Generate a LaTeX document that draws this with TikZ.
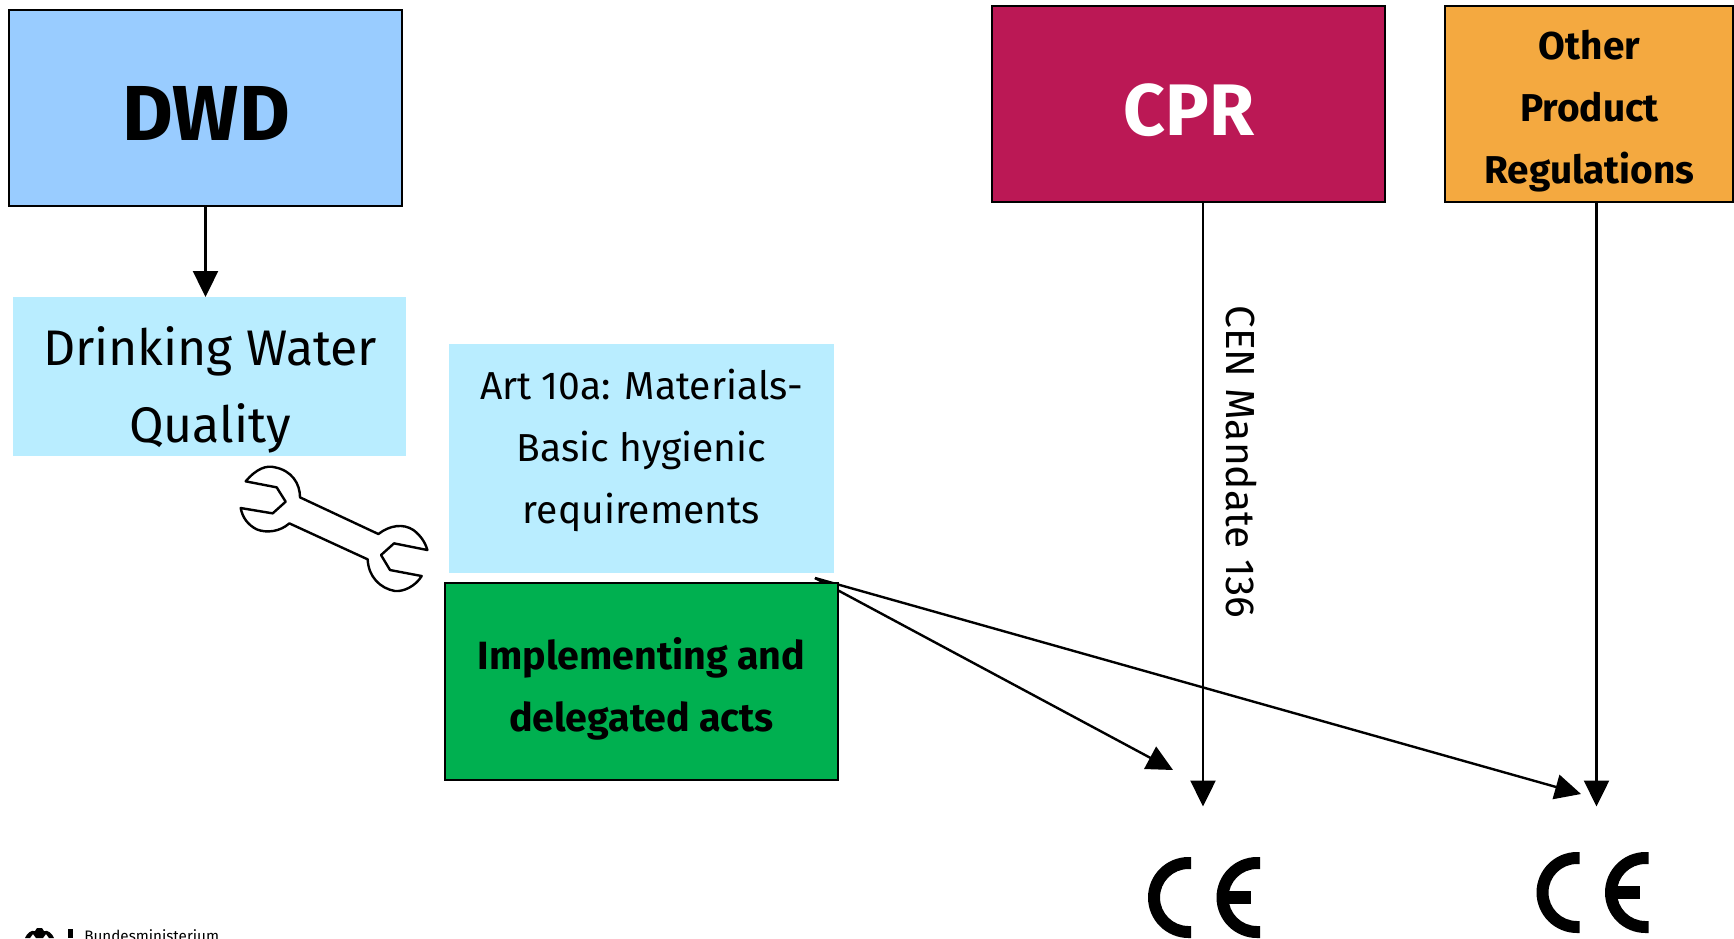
\documentclass[tikz,border=0pt]{standalone}
\usepackage{fontspec}
\setmainfont{Fira Sans}
\usetikzlibrary{arrows.meta}
\definecolor{dwdblue}{HTML}{99CCFF}
\definecolor{cprred}{HTML}{BB1855}
\definecolor{otherorange}{HTML}{F4A940}
\definecolor{lightcyan}{HTML}{B9EDFF}
\definecolor{actgreen}{HTML}{00B050}
\tikzset{
  px/.style={x=0.5pt,y=-0.5pt},
  boxbase/.style={rectangle,inner sep=0pt,outer sep=0pt,anchor=north west},
  framed/.style={boxbase,draw=black,line width=1pt},
  flat/.style={boxbase},
  boxtext/.style={inner sep=0pt,outer sep=0pt,align=center},
  arrowline/.style={draw=black,line width=1.2pt,-{Triangle[length=13pt,width=12.5pt]}},
  cemark/.style={fill=black,draw=none},
  wrenchline/.style={draw=black,line width=1.2pt,fill=white,line join=round}
}
\newcommand{\cemarkat}[2]{%
  \fill[cemark,shift={(#1,#2)}] (43,-40.5) -- (40.5,-40.5) arc[start angle=90,end angle=270,radius=20.25pt] -- (43,40.5) -- (43,28.5) -- (40.5,28.5) arc[start angle=270,end angle=90,radius=14.25pt] -- (43,-28.5) -- cycle;
  \fill[cemark,shift={(#1,#2)}] (112,-40.5) -- (109,-40.5) arc[start angle=90,end angle=270,radius=20.25pt] -- (112,40.5) -- (112,28.5) -- (109,28.5) arc[start angle=270,end angle=90,radius=14.25pt] -- (112,-28.5) -- cycle;
  \fill[cemark,shift={(#1,#2)}] (78,-6.2) rectangle (103,6.2);
}
\begin{document}
\begin{tikzpicture}[px]
\useasboundingbox (0,0) rectangle (1734,938);
\clip (0,0) rectangle (1734,938);
% boxes
\node[framed,fill=dwdblue,minimum width=196.5pt,minimum height=98pt] (dwd) at (9,10) {};
\node[framed,fill=cprred,minimum width=196.5pt,minimum height=98pt] (cpr) at (992,6) {};
\node[framed,fill=otherorange,minimum width=144pt,minimum height=98pt] (other) at (1445,6) {};
\node[flat,fill=lightcyan,minimum width=196.5pt,minimum height=79.5pt] (dwq) at (13,297) {};
\node[flat,fill=lightcyan,minimum width=192.5pt,minimum height=114.5pt] (art) at (449,344) {};
% free ends
\coordinate (src) at (815,578);
\coordinate (tipa) at (1173,770);
\coordinate (tipb) at (1581,794);
\coordinate (cprout) at (1203,202);
\coordinate (otherout) at (1596.5,202);
\coordinate (cea) at (1203,806.5);
\coordinate (ceb) at (1596.5,806.5);
% connectors
\draw[arrowline] (src) -- (tipa);
\draw[arrowline] (src) -- (tipb);
\draw[arrowline] (cprout) -- (cea);
\draw[arrowline] (otherout) -- (ceb);
\draw[arrowline] (dwd.south) -- (dwd.south |- dwq.north);
\node[framed,fill=actgreen,minimum width=196.5pt,minimum height=98.5pt] (acts) at (445,583) {};
% box texts
\node[boxtext,font=\fontsize{39}{42}\selectfont\bfseries] (dwdtext) at (206,113.5) {DWD};
\node[boxtext,text=white,font=\fontsize{36.5}{40}\selectfont\bfseries] (cprtext) at (1189,110.5) {CPR};
\node[boxtext,font=\fontsize{19.4}{31}\selectfont\bfseries] (othertext) at (1589.5,111.5) {Other\\Product\\Regulations};
\node[boxtext,font=\fontsize{25}{38.5}\selectfont] (dwqtext) at (210,389.5) {Drinking Water\\Quality};
\node[boxtext,font=\fontsize{19.5}{31}\selectfont] (arttext) at (641.5,450.5) {Art 10a: Materials-\\Basic hygienic\\requirements};
\node[boxtext,font=\fontsize{19.7}{31}\selectfont\bfseries] (actstext) at (641.5,688.5) {Implementing and\\delegated acts};
\node[boxtext,rotate=-90,font=\fontsize{20.3}{24}\selectfont] (cen) at (1241,462) {CEN Mandate 136};
% wrench
\begin{scope}[shift={(220,440)},x=0.1667pt,y=-0.1667pt]
\path[wrenchline] (77,124) .. controls (110,85) and (140,75) .. (165,82) .. controls (215,92) and (240,130) .. (240,172)
 -- (475,282) .. controls (510,255) and (550,250) .. (580,270) .. controls (600,285) and (615,305) .. (622,330)
 -- (522,310) -- (483,345) -- (510,390) -- (605,408)
 .. controls (585,440) and (550,455) .. (525,453) .. controls (480,445) and (445,410) .. (443,358)
 -- (208,250) .. controls (180,275) and (140,280) .. (110,268) .. controls (85,255) and (68,235) .. (62,204)
 -- (158,220) -- (197,185) -- (170,142) -- cycle;
\end{scope}
% CE marks
\cemarkat{1148}{897.5}
\cemarkat{1536.5}{892.5}
% logo
\fill[black] (25,938) .. controls (27,933) and (31,930) .. (35,931) -- (37,928) -- (42,928) -- (44,931) .. controls (48,930) and (52,933) .. (54,938) -- (49,938) -- (46,934) -- (43,938) -- (36,938) -- (33,934) -- (30,938) -- cycle;
\fill[black] (68,928.5) rectangle (73,938);
\node[inner sep=0pt,anchor=base west,font=\fontsize{7.6}{9}\selectfont] (bmi) at (84,941) {Bundesministerium};
\end{tikzpicture}
\end{document}
